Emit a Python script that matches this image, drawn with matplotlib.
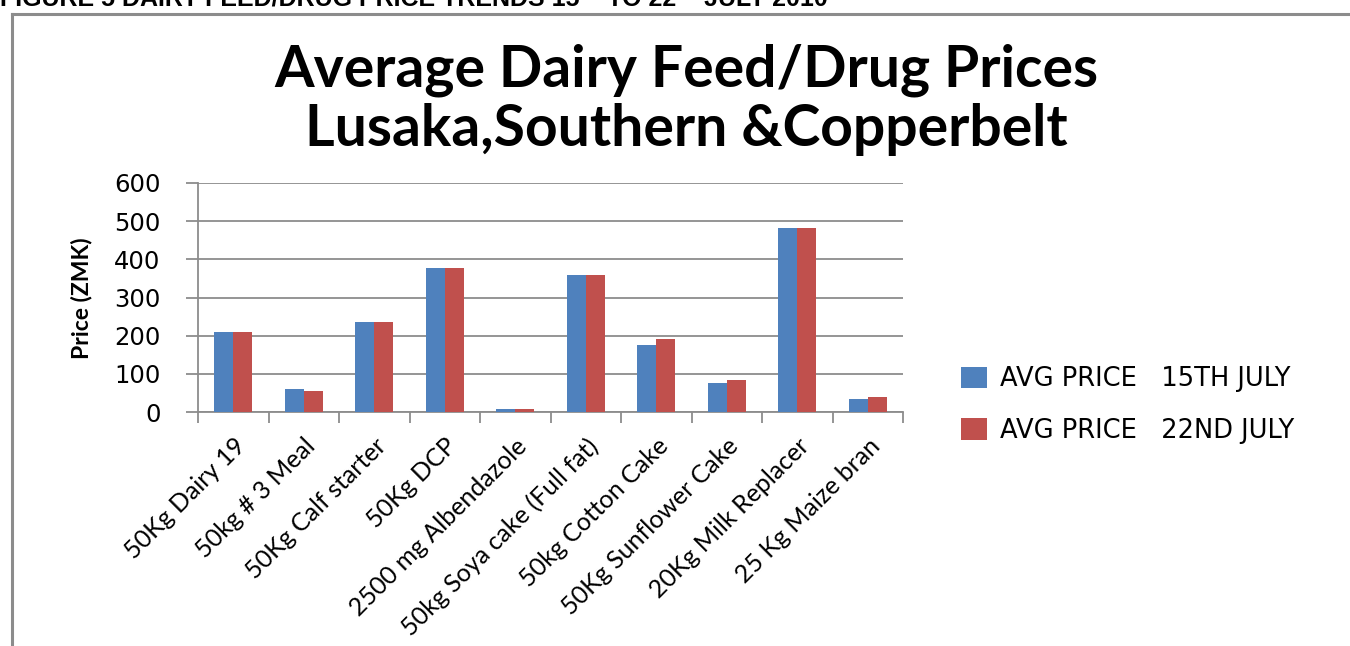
import numpy as np
import matplotlib
matplotlib.use("Agg")
import matplotlib.pyplot as plt

# average prices per product (ZMK)
products = ["50Kg Dairy 19", "50kg # 3 Meal", "50Kg Calf starter", "50Kg DCP",
            "2500 mg Albendazole", "50kg Soya cake (Full fat)", "50kg Cotton Cake",
            "50Kg Sunflower Cake", "20Kg Milk Replacer", "25 Kg Maize bran"]
price_15th = [210, 59, 237, 378, 7, 358, 175, 75, 482, 33]
price_22nd = [210, 54, 237, 378, 7, 358, 190, 85, 482, 38]
series_names = ["AVG PRICE   15TH JULY", "AVG PRICE   22ND JULY"]

blue = "#4F81BD"
red = "#C0504D"
grey = "#8c8c8c"

fig = plt.figure(figsize=(13.5, 6.46), dpi=100)
ax = fig.add_axes([198/1350, 1 - 412/646, 705/1350, 229/646])

x = np.arange(len(products))
w = 0.27
ax.bar(x - w/2, price_15th, w, color=blue, label=series_names[0], zorder=3)
ax.bar(x + w/2, price_22nd, w, color=red, label=series_names[1], zorder=3)

ax.set_xlim(-0.5, len(products) - 0.5)
ax.set_ylim(0, 600)
ax.set_yticks(range(0, 601, 100))
ax.yaxis.grid(True, color=grey, linewidth=1.3, zorder=0)
ax.tick_params(axis="y", length=9, width=1.3, color=grey, labelsize=17.5, pad=18)
for lab in ax.get_yticklabels():
    lab.set_family("DejaVu Sans")

# category boundary ticks on the x axis
ax.set_xticks(np.arange(-0.5, len(products)), minor=False)
ax.set_xticklabels([])
ax.tick_params(axis="x", length=8, width=1.3, color=grey)
ax.set_xticks(x, minor=True)
ax.set_xticklabels(products, minor=True, rotation=45, ha="right", va="top",
                   rotation_mode="anchor", fontsize=18, family="Lato")
ax.tick_params(axis="x", which="minor", length=0, pad=16)

for side in ["top", "right"]:
    ax.spines[side].set_visible(False)
for side in ["left", "bottom"]:
    ax.spines[side].set_color(grey)
    ax.spines[side].set_linewidth(1.3)

fig.text(81/1350, 1 - 298/646, "Price (ZMK)", rotation=90, ha="center", va="center",
         fontsize=16.5, fontweight="bold", family="Lato")

fig.text(686/1350, 1 - 70/646, "Average Dairy Feed/Drug Prices", ha="center", va="center",
         fontsize=41, fontweight="bold", family="Lato")
fig.text(686/1350, 1 - 130/646, "Lusaka,Southern &Copperbelt", ha="center", va="center",
         fontsize=41, fontweight="bold", family="Lato")

leg = fig.legend(loc="center left", bbox_to_anchor=(938/1350, 1 - 405/646), frameon=False,
                 handlelength=1.0, handleheight=0.9, handletextpad=0.5,
                 labelspacing=1.0, prop={"family": "DejaVu Sans", "size": 18.5})

# heading line partly cut at the top edge
fig.text(0.0, 1 - 5/646, "FIGURE 5 DAIRY FEED/DRUG PRICE TRENDS 15 \u2013 TO 22 \u2013 JULY 2010",
         ha="left", va="baseline", fontsize=18, fontweight="bold", family="Liberation Sans")

# outer chart frame
fig.add_artist(plt.Line2D([12/1350, 12/1350], [0, 1 - 14/646], color=grey, lw=2.2))
fig.add_artist(plt.Line2D([12/1350, 1], [1 - 14/646, 1 - 14/646], color=grey, lw=2.2))

fig.savefig("out.png", dpi=100)
